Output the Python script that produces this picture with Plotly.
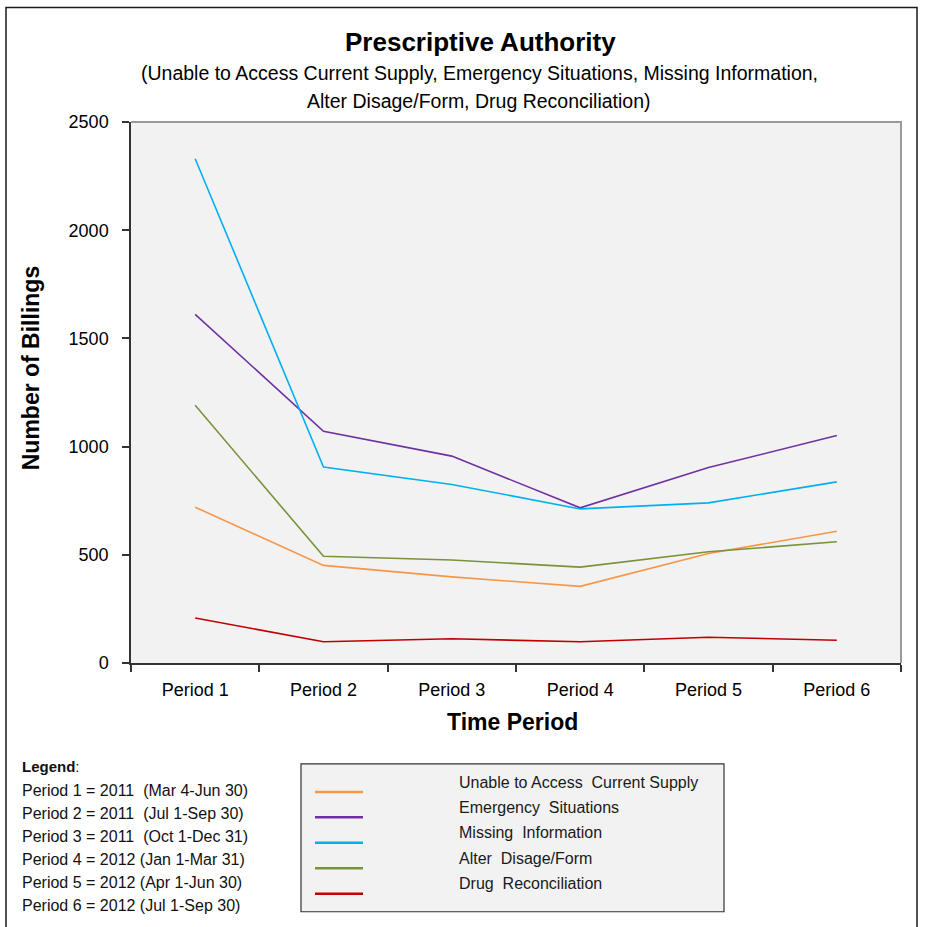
import plotly.graph_objects as go

# Billing counts per reporting period
periods = ["Period 1", "Period 2", "Period 3", "Period 4", "Period 5", "Period 6"]
unable_to_access = [720, 451, 398, 354, 506, 609]
emergency = [1611, 1071, 956, 717, 903, 1051]
missing_info = [2330, 906, 825, 712, 740, 837]
alter_dosage = [1191, 493, 476, 443, 514, 560]
drug_reconciliation = [208, 98, 112, 98, 119, 105]

series_names = [
    "Unable to Access  Current Supply",
    "Emergency  Situations",
    "Missing  Information",
    "Alter  Disage/Form",
    "Drug  Reconciliation",
]
series_values = [unable_to_access, emergency, missing_info, alter_dosage, drug_reconciliation]
series_colors = ["#F79646", "#7030A0", "#00B0F0", "#77933C", "#C00000"]

period_notes = [
    "Period 1 = 2011  (Mar 4-Jun 30)",
    "Period 2 = 2011  (Jul 1-Sep 30)",
    "Period 3 = 2011  (Oct 1-Dec 31)",
    "Period 4 = 2012 (Jan 1-Mar 31)",
    "Period 5 = 2012 (Apr 1-Jun 30)",
    "Period 6 = 2012 (Jul 1-Sep 30)",
]

W, H = 925, 927
L, R, T, B = 131, 901, 121.5, 663
FONT = "Liberation Sans, Arial, sans-serif"


def px(x):
    return (x - L) / (R - L)


def py(y):
    return (B - y) / (B - T)


fig = go.Figure()
for name, vals, col in zip(series_names, series_values, series_colors):
    fig.add_trace(go.Scatter(x=periods, y=vals, mode="lines", name=name,
                             line=dict(color=col, width=1.6), showlegend=False))

shapes = []
annotations = []

# outer frame
shapes.append(dict(type="rect", xref="paper", yref="paper",
                   x0=px(6), x1=px(917), y0=py(940), y1=py(7),
                   line=dict(color="#1a1a1a", width=1.5), layer="below"))
# plot area border (top/right)
shapes.append(dict(type="path", xref="paper", yref="paper",
                   path=f"M {px(L)} {py(T)} L {px(R)} {py(T)} L {px(R)} {py(B)}",
                   line=dict(color="#9a9a9a", width=2)))

# series key box
shapes.append(dict(type="rect", xref="paper", yref="paper",
                   x0=px(301), x1=px(724), y0=py(912), y1=py(764),
                   fillcolor="#F2F2F2", line=dict(color="#333333", width=1.2)))
line_ys = [792, 817.5, 843, 868.5, 894]
text_ys = [783, 808, 833, 859, 884]
for name, col, ly, ty in zip(series_names, series_colors, line_ys, text_ys):
    shapes.append(dict(type="line", xref="paper", yref="paper",
                       x0=px(315), x1=px(363), y0=py(ly), y1=py(ly),
                       line=dict(color=col, width=2.5)))
    annotations.append(dict(xref="paper", yref="paper", x=px(457), y=py(ty),
                            text=name, showarrow=False, xanchor="left", yanchor="middle",
                            font=dict(family=FONT, size=16, color="#1a1a1a")))

# period key
annotations.append(dict(xref="paper", yref="paper", x=px(20), y=py(767),
                        text="<b>Legend</b>:", showarrow=False, xanchor="left", yanchor="middle",
                        font=dict(family=FONT, size=15, color="#111111")))
for i, note in enumerate(period_notes):
    annotations.append(dict(xref="paper", yref="paper", x=px(20), y=py(791 + i * 23.0),
                            text=note, showarrow=False, xanchor="left", yanchor="middle",
                            font=dict(family=FONT, size=16, color="#111111")))

# titles
annotations.append(dict(xref="paper", yref="paper", x=px(480), y=py(41),
                        text="<b>Prescriptive Authority</b>", showarrow=False,
                        xanchor="center", yanchor="middle",
                        font=dict(family=FONT, size=26, color="#000000")))
annotations.append(dict(xref="paper", yref="paper", x=px(479), y=py(72),
                        text="(Unable to Access Current Supply, Emergency Situations, Missing Information,",
                        showarrow=False, xanchor="center", yanchor="middle",
                        font=dict(family=FONT, size=19.5, color="#000000")))
annotations.append(dict(xref="paper", yref="paper", x=px(479), y=py(100),
                        text="Alter Disage/Form, Drug Reconciliation)",
                        showarrow=False, xanchor="center", yanchor="middle",
                        font=dict(family=FONT, size=19.5, color="#000000")))
annotations.append(dict(xref="paper", yref="paper", x=px(512), y=py(722),
                        text="<b>Time Period</b>", showarrow=False,
                        xanchor="center", yanchor="middle",
                        font=dict(family=FONT, size=23, color="#000000")))
annotations.append(dict(xref="paper", yref="paper", x=px(31), y=py(368),
                        text="<b>Number of Billings</b>", showarrow=False, textangle=-90,
                        xanchor="center", yanchor="middle",
                        font=dict(family=FONT, size=23, color="#000000")))

fig.update_layout(
    width=W, height=H,
    margin=dict(l=L, r=W - R, t=T, b=H - B),
    paper_bgcolor="white",
    plot_bgcolor="#F2F2F2",
    shapes=shapes,
    annotations=annotations,
    xaxis=dict(type="category", range=[-0.5, 5.5], tickson="boundaries",
               ticks="outside", ticklen=7, automargin=False, ticklabelstandoff=10,
               tickwidth=1.5, tickcolor="#333333", showline=True, linecolor="#333333",
               linewidth=1.5, showgrid=False, zeroline=False,
               tickfont=dict(family=FONT, size=18, color="#000000")),
    yaxis=dict(range=[0, 2500], tickvals=[0, 500, 1000, 1500, 2000, 2500],
               ticks="outside", ticklen=7, tickwidth=1.5, tickcolor="#333333",
               automargin=False, ticklabelstandoff=10,
               showline=True, linecolor="#333333", linewidth=1.5, showgrid=False,
               zeroline=False, tickfont=dict(family=FONT, size=18, color="#000000")),
)

fig.write_html("out.html")
